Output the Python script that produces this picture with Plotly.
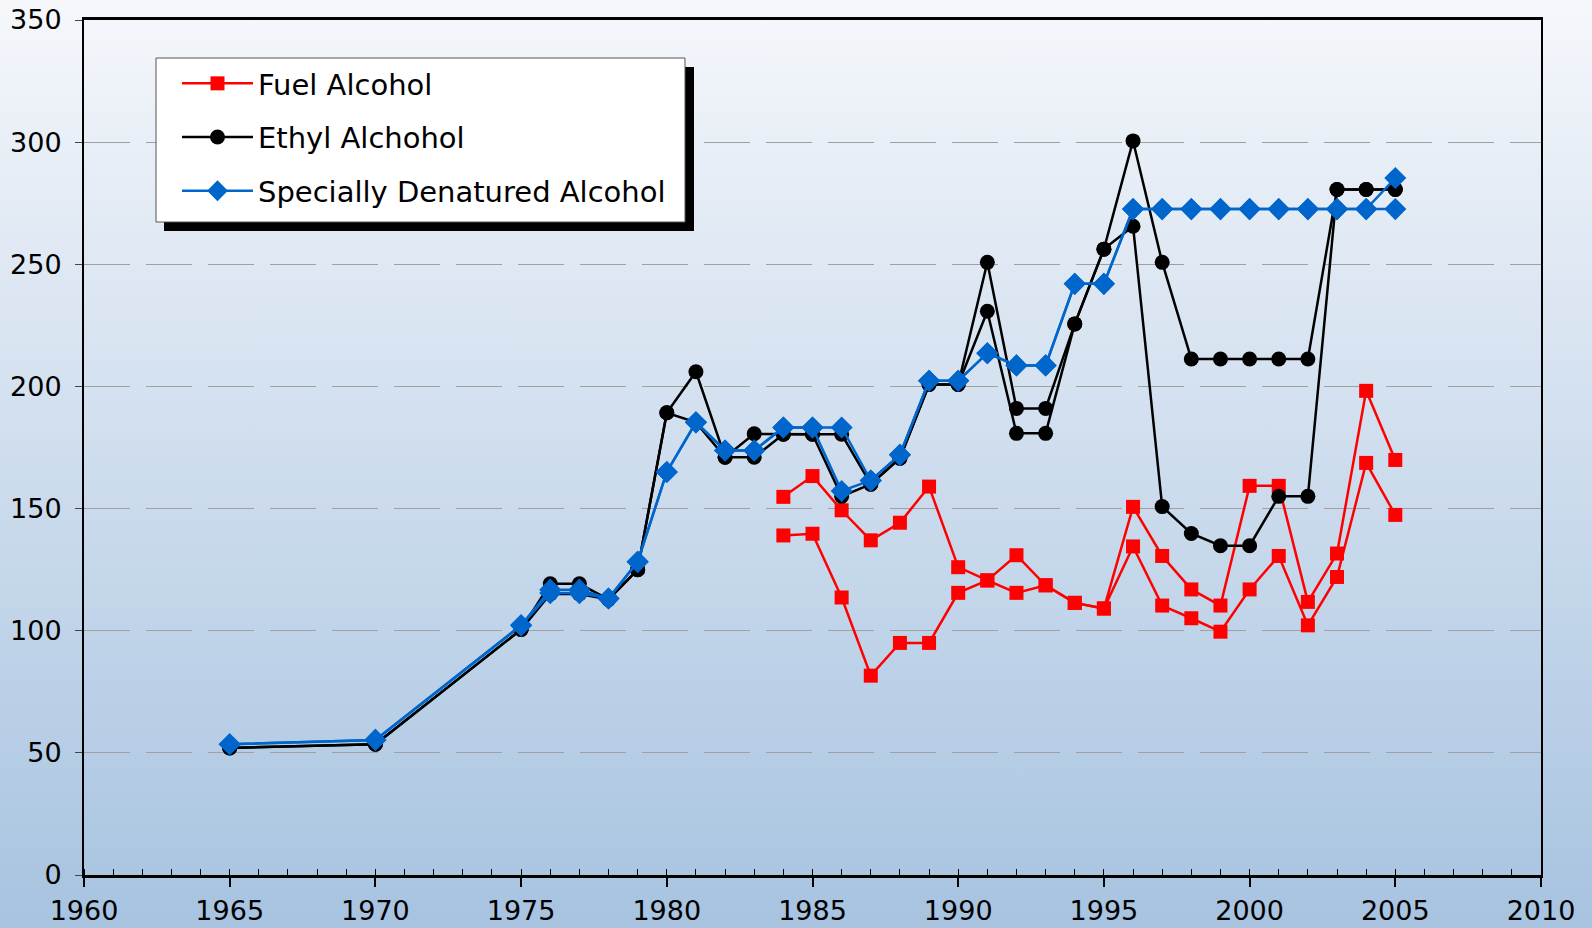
import base64
import plotly.graph_objects as go

# ---------------- data ----------------
fuel_years = [1984, 1985, 1986, 1987, 1988, 1989, 1990, 1991, 1992, 1993, 1994,
              1995, 1996, 1997, 1998, 1999, 2000, 2001, 2002, 2003, 2004, 2005]
fuel_high = [154.8, 163.3, 149.3, 137.0, 144.2, 159.0, 126.0, 120.6, 130.9, 118.6, 111.4,
             109.1, 150.7, 130.6, 116.9, 110.3, 159.3, 159.3, 111.8, 131.6, 198.2, 169.9]
fuel_low = [139.0, 139.7, 113.6, 81.6, 95.0, 95.0, 115.5, 120.6, 115.5, 118.6, 111.4,
            109.1, 134.5, 110.3, 105.1, 99.6, 116.9, 130.6, 102.2, 122.0, 168.7, 147.4]

ethyl_years = [1965, 1970, 1975, 1976, 1977, 1978, 1979, 1980, 1981, 1982, 1983, 1984,
               1985, 1986, 1987, 1988, 1989, 1990, 1991, 1992, 1993, 1994, 1995, 1996,
               1997, 1998, 1999, 2000, 2001, 2002, 2003, 2004, 2005]
ethyl_high = [52.0, 53.5, 100.5, 119.2, 119.2, 112.8, 125.0, 189.2, 206.0, 171.0, 180.6, 180.4,
              180.4, 180.4, 160.0, 170.6, 200.8, 200.8, 250.8, 191.0, 191.0, 225.6, 256.2, 300.5,
              250.8, 211.2, 211.2, 211.2, 211.2, 211.2, 280.6, 280.6, 280.6]
ethyl_low = [52.0, 53.5, 100.5, 115.0, 115.0, 112.8, 125.0, 189.2, 185.3, 171.0, 171.0, 180.4,
             180.4, 155.0, 160.0, 170.6, 200.8, 200.8, 230.8, 180.8, 180.8, 225.6, 256.2, 265.6,
             150.8, 139.8, 134.8, 134.8, 155.0, 155.0, 280.6, 280.6, 280.6]

sda_years = ethyl_years
sda_high = [53.5, 55.3, 102.2, 116.8, 116.8, 113.2, 128.2, 165.0, 185.3, 173.8, 173.8, 183.2,
            183.2, 183.2, 161.5, 172.0, 202.3, 202.3, 213.6, 208.6, 208.6, 242.0, 242.0, 272.6,
            272.6, 272.6, 272.6, 272.6, 272.6, 272.6, 272.6, 272.6, 285.3]
sda_low = [53.5, 55.3, 102.2, 115.4, 115.4, 113.2, 128.2, 165.0, 185.3, 173.8, 173.8, 183.2,
           183.2, 157.2, 161.5, 172.0, 202.3, 202.3, 213.6, 208.6, 208.6, 242.0, 242.0, 272.6,
           272.6, 272.6, 272.6, 272.6, 272.6, 272.6, 272.6, 272.6, 272.6]

series_names = ["Fuel Alcohol", "Ethyl Alchohol", "Specially Denatured Alcohol"]

# ---------------- styling ----------------
W, H = 1592, 928
ML, MR, MT, MB = 84, 51, 20, 53
PW, PH = W - ML - MR, H - MT - MB
FONT = "Verdana, DejaVu Sans, sans-serif"


def px_x(p):
    return (p - ML) / PW


def px_y(p):
    return (H - MB - p) / PH


fig = go.Figure()

styles = [
    dict(color="#ff0000", symbol="square", size=14),
    dict(color="#000000", symbol="circle", size=15),
    dict(color="#0066cc", symbol="diamond", size=17),
]
data = [
    (fuel_years, fuel_high, fuel_low),
    (ethyl_years, ethyl_high, ethyl_low),
    (sda_years, sda_high, sda_low),
]

for name, st, (yrs, hi, lo) in zip(series_names, styles, data):
    for k, vals in enumerate([hi, lo]):
        fig.add_trace(go.Scatter(
            x=yrs, y=vals, mode="lines+markers", name=name,
            legendgroup=name, showlegend=(k == 0),
            line=dict(color=st["color"], width=2.5),
            marker=dict(symbol=st["symbol"], size=st["size"], color=st["color"],
                        line=dict(width=0)),
        ))

svg = ('<svg xmlns="http://www.w3.org/2000/svg" width="100" height="100" '
       'viewBox="0 0 100 100" preserveAspectRatio="none">'
       '<defs><linearGradient id="g" x1="0" y1="0" x2="0" y2="1">'
       '<stop offset="0" stop-color="#f5f7fb"/><stop offset="1" stop-color="#a7c3e0"/>'
       '</linearGradient></defs><rect width="100" height="100" fill="url(#g)"/></svg>')
src = "data:image/svg+xml;base64," + base64.b64encode(svg.encode()).decode()

shapes = [
    # legend shadow
    dict(type="rect", xref="paper", yref="paper",
         x0=px_x(164), x1=px_x(694), y0=px_y(231), y1=px_y(67),
         fillcolor="black", line=dict(width=0), layer="above"),
    # legend box
    dict(type="rect", xref="paper", yref="paper",
         x0=px_x(156), x1=px_x(685), y0=px_y(222), y1=px_y(58),
         fillcolor="white", line=dict(color="#555555", width=1), layer="above"),
]

fig.update_layout(
    width=W, height=H,
    autosize=False,
    margin=dict(l=ML, r=MR, t=MT, b=MB, pad=0, autoexpand=False),
    paper_bgcolor="#cfdcea",
    plot_bgcolor="rgba(0,0,0,0)",
    font=dict(family=FONT, size=27, color="black"),
    images=[dict(source=src, xref="paper", yref="paper",
                 x=-ML / PW, y=1 + MT / PH, sizex=W / PW, sizey=H / PH,
                 xanchor="left", yanchor="top", sizing="stretch", layer="below")],
    shapes=shapes,
    showlegend=True,
    legend=dict(x=px_x(177), y=px_y(58), xanchor="left", yanchor="top",
                bgcolor="rgba(0,0,0,0)", borderwidth=0,
                font=dict(family=FONT, size=29, color="black"),
                tracegroupgap=13, itemwidth=71),
    xaxis=dict(range=[1960, 2010], tick0=1960, dtick=5, ticks="outside", ticklen=9,
               tickwidth=1.5, tickcolor="black", showline=True, linecolor="black",
               linewidth=3, mirror=True, showgrid=False, zeroline=False,
               automargin=False,
               tickfont=dict(size=27), ticklabelstandoff=1,
               minor=dict(dtick=1, ticks="inside", ticklen=6, tickwidth=1.2,
                          tickcolor="black", showgrid=False)),
    xaxis2=dict(range=[1960, 2010], overlaying="x", anchor="y", side="bottom",
                tick0=1960, dtick=5, ticks="inside", ticklen=9, tickwidth=1.5,
                tickcolor="black", showticklabels=False, showline=False,
                showgrid=False, zeroline=False, automargin=False),
    yaxis=dict(range=[0, 350], dtick=50, ticks="outside", ticklen=7, tickwidth=1,
               tickcolor="#444444", showline=True, linecolor="black", linewidth=2,
               mirror=True, showgrid=True, gridcolor="#a0a0a0", gridwidth=1.2,
               griddash="46px,16px", zeroline=False, tickfont=dict(size=27),
               automargin=False, ticklabelstandoff=8),
)

fig.write_html("out.html",
               config={"displayModeBar": False},
               post_script="document.body.style.margin='0';"
                           "document.body.style.overflow='hidden';")
